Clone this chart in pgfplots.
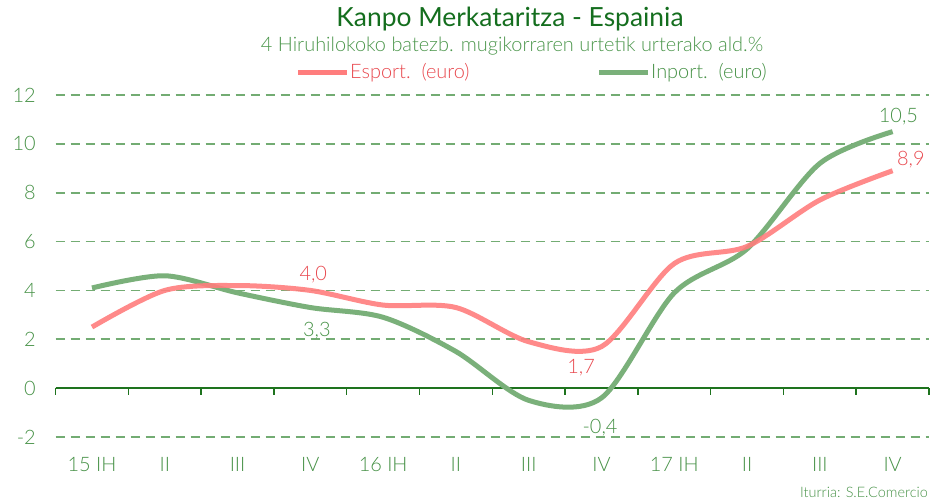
\documentclass[border=0pt]{standalone}
\usepackage{pgfplots}
\pgfplotsset{compat=1.18}
\usepackage{fontspec}
\setmainfont{Lato Light}
\newfontfamily\latoreg{Lato}
\definecolor{titlegreen}{RGB}{20,110,30}
\definecolor{subgreen}{RGB}{75,150,75}
\definecolor{gridgreen}{RGB}{115,172,115}
\definecolor{axisgreen}{RGB}{30,115,30}
\definecolor{expline}{RGB}{255,125,125}
\definecolor{impline}{RGB}{122,176,122}
\definecolor{labred}{RGB}{232,72,78}
\definecolor{labgreen}{RGB}{70,145,70}
\begin{document}
\begin{tikzpicture}[x=1bp,y=1bp]
\path[use as bounding box] (0,0) rectangle (931,501);
\begin{axis}[at={(55.6bp,64bp)}, anchor=south west, scale only axis,
  width=873.4bp, height=342bp,
  xmin=-0.5, xmax=11.5, ymin=-2, ymax=12,
  axis line style={draw=none},
  ytick={-2,0,...,12},
  ymajorgrids,
  grid style={gridgreen, line width=1.7bp, dash pattern=on 9bp off 6bp},
  xtick={0,...,11},
  xticklabels={15 IH, II, III, IV, 16 IH, II, III, IV, 17 IH, II, III, IV},
  major tick length=0,
  tick label style={font=\fontsize{20}{22}\selectfont, text=labgreen, inner sep=0pt},
  /pgf/number format/assume math mode=true,
  yticklabel style={anchor=east, xshift=-19.6bp},
  xticklabel style={anchor=north, yshift=-20bp},
  clip=false]
\draw[axisgreen, line width=1.8bp] (axis cs:-0.5,0) -- (axis cs:11.5,0);
\pgfplotsinvokeforeach{-0.5,0.5,...,11.5}{
  \draw[axisgreen, line width=1.5bp] (axis cs:#1,0) -- ([yshift=-7bp]axis cs:#1,0);
}
\addplot[impline, line width=5bp, smooth, tension=0.5] coordinates {
(0,4.1) (1,4.6) (2,3.9) (3,3.3) (4,2.9) (5,1.5) (6,-0.5) (7,-0.4) (8,3.9) (9,5.7) (10,9.2) (11,10.5)};
\addplot[expline, line width=5bp, smooth, tension=0.5, opacity=0.9] coordinates {
(0,2.5) (1,4.0) (2,4.2) (3,4.0) (4,3.4) (5,3.3) (6,1.9) (7,1.7) (8,5.1) (9,5.8) (10,7.7) (11,8.9)};
\node[text=labred, font=\fontsize{20}{22}\selectfont] at (axis cs:3.04,4.63) {4,0};
\node[text=labgreen, font=\fontsize{20}{22}\selectfont] at (axis cs:3.09,2.34) {3,3};
\node[text=labred, font=\fontsize{20}{22}\selectfont] at (axis cs:6.72,0.82) {1,7};
\node[text=labgreen, font=\fontsize{20}{22}\selectfont] at (axis cs:6.98,-1.6) {-0,4};
\node[text=labgreen, font=\fontsize{20}{22}\selectfont] at (axis cs:11.08,11.1) {10,5};
\node[text=labred, font=\fontsize{20}{22}\selectfont] at (axis cs:11.25,9.34) {8,9};
\end{axis}
\node[font=\latoreg\fontsize{26.5}{30}\selectfont, text=titlegreen] at (510,482) {Kanpo Merkataritza - Espainia};
\node[font=\fontsize{20}{22}\selectfont, text=subgreen] at (512,455) {4 Hiruhilokoko batezb. mugikorraren urtetik urterako ald.\%};
\draw[expline, line width=5bp] (298,428) -- (347,428);
\node[anchor=west, inner sep=0pt, font=\fontsize{20}{22}\selectfont, text=labred] at (350,428) {Esport.\ \ (euro)};
\draw[impline, line width=5bp] (599,428) -- (648,428);
\node[anchor=west, inner sep=0pt, font=\fontsize{20}{22}\selectfont, text=labgreen] at (651,428) {Inport.\ \ (euro)};
\node[anchor=east, inner sep=0pt, font=\fontsize{14.5}{16}\selectfont, text=labgreen] at (928,9) {Iturria: S.E.Comercio};
\end{tikzpicture}
\end{document}
